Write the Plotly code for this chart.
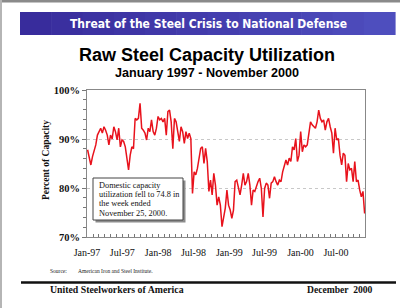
import pandas as pd
import plotly.graph_objects as go

# ---- data (weekly raw steel capacity utilization, %) ----
values_97_98 = [87.8, 86.4, 84.7, 86.4, 87.4, 88.8, 90.8, 91.5, 92.2, 91.2,
                92.5, 91.8, 90.8, 88.8, 90.8, 90.0, 92.5, 91.5, 89.8, 92.2,
                88.4, 89.8, 89.5, 88.4, 85.4, 83.7, 86.7, 88.4, 88.0, 94.2,
                93.9, 94.2, 97.3, 92.2, 91.8, 91.2, 89.8, 92.2, 91.5, 93.9,
                91.5, 90.8, 92.2, 94.6, 93.9, 94.2, 93.5, 94.2, 90.8, 95.6,
                95.9, 93.5, 88.0, 94.2, 93.5, 91.5, 89.5, 92.5, 91.5, 89.1,
                91.5, 90.1, 91.2, 90.1, 78.9, 83.3, 82.7, 84.0, 86.1, 88.1,
                88.4, 85.0, 88.1, 85.4, 79.3, 81.6, 78.6, 83.0, 80.6, 76.5,
                78.2, 76.5, 72.1, 73.8, 75.9, 79.6, 76.5]
values_99_00 = [75.5, 73.8, 75.5, 81.3, 81.6, 79.9, 78.6, 80.6, 83.0, 80.6,
                81.3, 83.0, 80.6, 76.5, 79.6, 79.3, 80.6, 81.3, 82.0, 79.9,
                74.1, 79.9, 81.0, 80.6, 77.9, 81.0, 81.3, 82.3, 81.3, 80.6,
                81.6, 81.3, 83.3, 84.7, 85.7, 84.7, 86.1, 85.4, 88.4, 87.8,
                90.1, 85.4, 86.7, 91.5, 87.4, 88.8, 88.4, 88.8, 91.2, 93.5,
                92.9, 92.5, 92.2, 93.5, 95.9, 94.2, 93.5, 93.9, 91.8, 93.5,
                94.2, 92.5, 91.2, 87.1, 92.2, 89.8, 90.1, 86.7, 84.7, 87.1,
                86.7, 81.3, 85.0, 83.7, 84.0, 81.3, 85.4, 81.3, 81.6, 79.6,
                78.2, 79.3, 74.8]
values = values_97_98 + values_99_00
start_date = "1997-01-04"
end_date = "2000-11-25"
dates = pd.date_range(start_date, end_date, periods=len(values))

y_ticks = [70, 80, 90, 100]
y_tick_labels = ["70%", "80%", "90%", "100%"]

# ---- layout helpers (pixel -> paper) ----
W, H = 400, 308
L, R, T, B = 87, 365, 90, 237
def px(x):
    return (x - L) / (R - L)
def py(y):
    return (B - y) / (B - T)

SERIF = "Liberation Serif, Times New Roman, serif"
SANS = "Liberation Sans, Arial, sans-serif"

fig = go.Figure()
fig.add_trace(go.Scatter(x=dates, y=values, mode="lines",
                         line=dict(color="#e8121c", width=1.5),
                         hoverinfo="skip", showlegend=False))

shapes = []
# scan edges
shapes.append(dict(type="rect", xref="paper", yref="paper", x0=px(0), x1=px(400), y0=py(0), y1=py(2.5),
                   fillcolor="#8a8a8a", line=dict(width=0), layer="below"))
shapes.append(dict(type="rect", xref="paper", yref="paper", x0=px(0), x1=px(2), y0=py(0), y1=py(308),
                   fillcolor="#b5b5b5", line=dict(width=0), layer="below"))
# banner with a light gradient
n_seg = 12
c0 = (56, 44, 156)
c1 = (78, 78, 190)
for i in range(n_seg):
    t = i / (n_seg - 1)
    col = "rgb(%d,%d,%d)" % tuple(int(c0[k] + (c1[k] - c0[k]) * t) for k in range(3))
    x0 = 20 + (395 - 20) * i / n_seg
    x1 = 20 + (395 - 20) * (i + 1) / n_seg + 0.6
    shapes.append(dict(type="rect", xref="paper", yref="paper", x0=px(x0), x1=px(x1),
                       y0=py(35), y1=py(12), fillcolor=col, line=dict(width=0)))
# annotation box shadow + box
shapes.append(dict(type="rect", xref="paper", yref="paper", x0=px(95.5), x1=px(185.5),
                   y0=py(222.5), y1=py(180.5), fillcolor="#8c8c8c", line=dict(width=0)))
shapes.append(dict(type="rect", xref="paper", yref="paper", x0=px(93), x1=px(183),
                   y0=py(220), y1=py(178), fillcolor="white", line=dict(color="#444", width=1)))
# footer rule
shapes.append(dict(type="line", xref="paper", yref="paper", x0=px(21), x1=px(396),
                   y0=py(282.5), y1=py(282.5), line=dict(color="#111", width=2.5)))

annotations = []
annotations.append(dict(text="<b>Threat of the Steel Crisis to National Defense</b>", xref="paper", yref="paper",
                        x=px(208), y=py(23.5), showarrow=False, xanchor="center", yanchor="middle",
                        font=dict(family="DejaVu Sans Condensed, Liberation Sans Narrow, sans-serif",
                                  size=12, color="white")))
annotations.append(dict(text="<b>Raw Steel Capacity Utilization</b>", xref="paper", yref="paper",
                        x=px(207), y=py(54.5), showarrow=False, xanchor="center", yanchor="middle",
                        font=dict(family=SANS, size=18, color="black")))
annotations.append(dict(text="<b>January 1997 - November 2000</b>", xref="paper", yref="paper",
                        x=px(207), y=py(73), showarrow=False, xanchor="center", yanchor="middle",
                        font=dict(family=SANS, size=12.6, color="black")))
annotations.append(dict(text="<b>Percent of Capacity</b>", xref="paper", yref="paper",
                        x=px(46), y=py(160), showarrow=False, textangle=-90, xanchor="center", yanchor="middle",
                        font=dict(family=SERIF, size=9.5, color="#111")))
box_lines = ["Domestic capacity", "utilization fell to 74.8 in", "the week ended", "November 25, 2000."]
for i, line in enumerate(box_lines):
    annotations.append(dict(text=line, xref="paper", yref="paper", x=px(97), y=py(185 + 9.4 * i),
                            showarrow=False, xanchor="left", yanchor="middle",
                            font=dict(family=SERIF, size=8.3, color="#111")))
annotations.append(dict(text="Source:", xref="paper", yref="paper", x=px(48), y=py(271),
                        showarrow=False, xanchor="left", yanchor="middle",
                        font=dict(family=SERIF, size=5.5, color="#222")))
annotations.append(dict(text="American Iron and Steel Institute.", xref="paper", yref="paper", x=px(76), y=py(271),
                        showarrow=False, xanchor="left", yanchor="middle",
                        font=dict(family=SERIF, size=5.5, color="#222")))
annotations.append(dict(text="<b>United Steelworkers of America</b>", xref="paper", yref="paper", x=px(48), y=py(289.5),
                        showarrow=False, xanchor="left", yanchor="middle",
                        font=dict(family=SERIF, size=9.8, color="#111")))
annotations.append(dict(text="<b>December  2000</b>", xref="paper", yref="paper", x=px(375), y=py(289),
                        showarrow=False, xanchor="right", yanchor="middle",
                        font=dict(family=SERIF, size=9.6, color="#111")))

fig.update_layout(
    width=W, height=H,
    margin=dict(l=L, r=W - R, t=T, b=H - B, pad=0),
    paper_bgcolor="white", plot_bgcolor="white",
    shapes=shapes, annotations=annotations,
    xaxis=dict(type="date", range=["1997-01-01", "2000-11-27"],
               tick0="1997-01-01", dtick="M6", tickformat="%b-%y",
               ticks="inside", ticklen=3, tickcolor="#777", ticklabelstandoff=6,
               minor=dict(dtick="M1", ticks="inside", ticklen=3, tickcolor="#777"),
               showgrid=False, showline=True, linecolor="#888", linewidth=1, mirror=True,
               tickfont=dict(family=SERIF, size=10, color="#111"), zeroline=False),
    yaxis=dict(range=[70, 100], tickvals=y_ticks,
               ticktext=["<b>%s</b>" % t for t in y_tick_labels],
               ticks="outside", ticklen=4, tickcolor="#777",
               minor=dict(dtick=2, ticks="outside", ticklen=3, tickcolor="#777"),
               showgrid=True, gridcolor="#c8c8c8", griddash="dot", gridwidth=1,
               showline=True, linecolor="#888", linewidth=1, mirror=True,
               tickfont=dict(family=SERIF, size=10.5, color="#111"), zeroline=False),
)

fig.write_html("out.html")
